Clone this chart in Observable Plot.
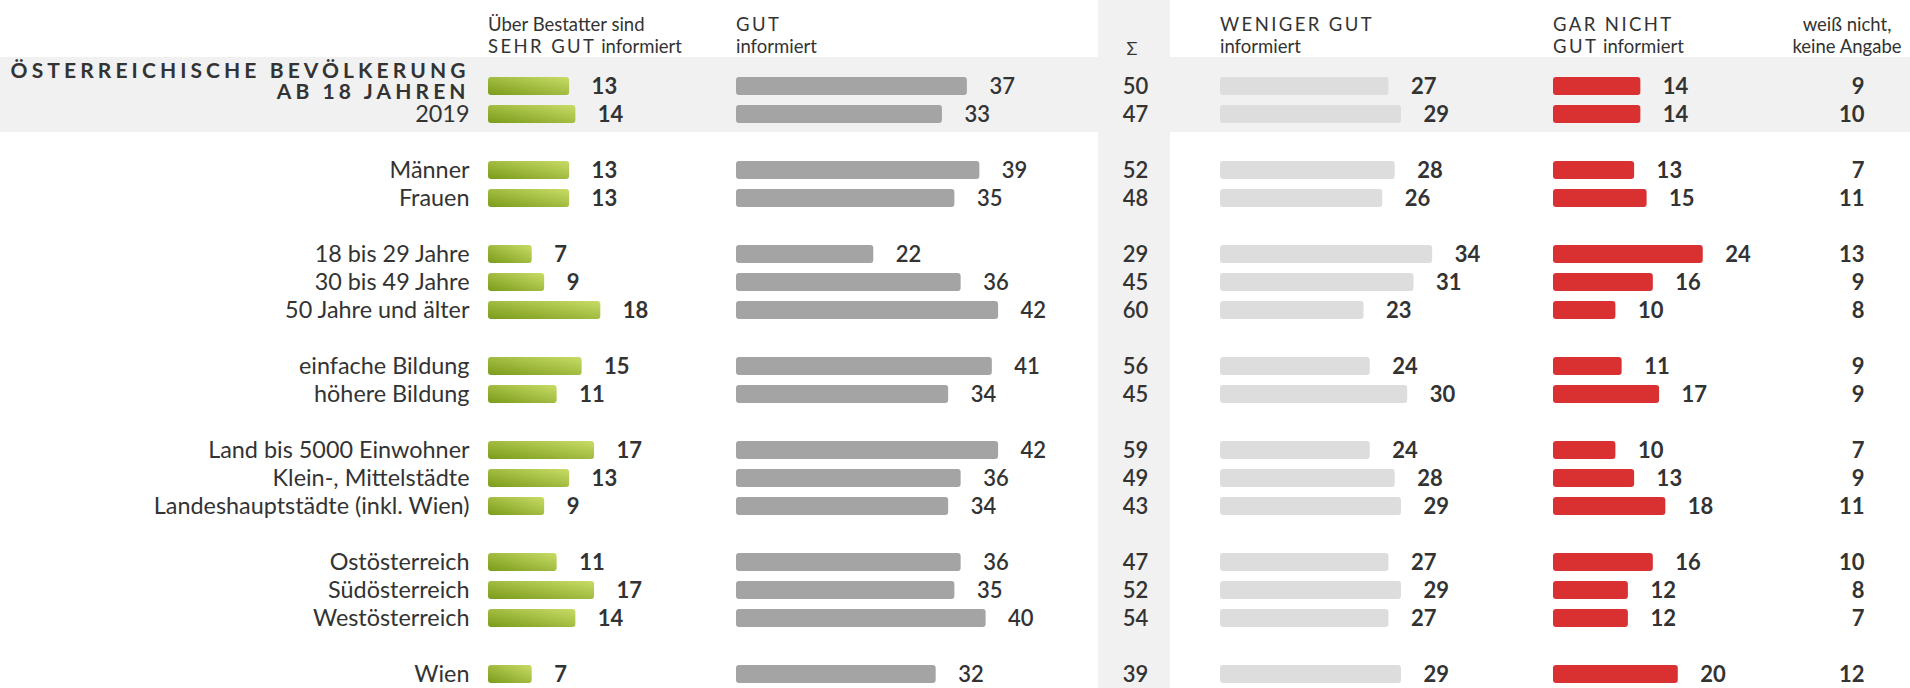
<!DOCTYPE html>
<html><head><meta charset="utf-8">
<script src="https://cdn.jsdelivr.net/npm/d3@7"></script>
<script src="https://cdn.jsdelivr.net/npm/@observablehq/plot@0.6"></script>
<style>
body{margin:0;background:#fff;font-family:Lato,sans-serif}
svg{display:block}
</style>
</head><body><div id="chart"></div>
<script>
// ---- data ----
const labels = ["ÖSTERREICHISCHE BEVÖLKERUNG\nAB 18 JAHREN", "2019", "Männer", "Frauen", "18 bis 29 Jahre", "30 bis 49 Jahre", "50 Jahre und älter", "einfache Bildung", "höhere Bildung", "Land bis 5000 Einwohner", "Klein-, Mittelstädte", "Landeshauptstädte (inkl. Wien)", "Ostösterreich", "Südösterreich", "Westösterreich", "Wien"];
const groups = [0, 0, 1, 1, 2, 2, 2, 3, 3, 4, 4, 4, 5, 5, 5, 6];
const sehrGut    = [13, 14, 13, 13, 7, 9, 18, 15, 11, 17, 13, 9, 11, 17, 14, 7];
const gut        = [37, 33, 39, 35, 22, 36, 42, 41, 34, 42, 36, 34, 36, 35, 40, 32];
const summe      = [50, 47, 52, 48, 29, 45, 60, 56, 45, 59, 49, 43, 47, 52, 54, 39];
const wenigerGut = [27, 29, 28, 26, 34, 31, 23, 24, 30, 24, 28, 29, 27, 29, 27, 29];
const garNicht   = [14, 14, 13, 15, 24, 16, 10, 11, 17, 10, 13, 18, 16, 12, 12, 20];
const weissNicht = [9, 10, 7, 11, 13, 9, 8, 9, 9, 7, 9, 11, 10, 8, 7, 12];

// ---- layout ----
const W = 1910, H = 688, U = 6.24;       // px per percentage point
const px = v => v / U;                      // pixel layout -> x scale units
const col = {green: 488, gray: 736, light: 1220, red: 1553, label: 469, sum: 1135, dk: 1864};
const nSlots = 22;
const data = labels.map((label, i) => ({
  label, slot: i + groups[i],
  sehrGut: sehrGut[i], gut: gut[i], summe: summe[i],
  wenigerGut: wenigerGut[i], garNicht: garNicht[i], weissNicht: weissNicht[i]
}));
const TXT = "#333333";
const F = "Lato, sans-serif";
const TITLE_LS = 4.1;

function barCol(key, start, fill, aria) {
  return Plot.barX(data, {y: "slot", x1: () => px(start), x2: d => px(start) + d[key], fill, rx: 3, ariaLabel: aria});
}
function numCol(key, start, weight) {
  return Plot.text(data, {y: "slot", x: d => px(start) + d[key], dx: 22, text: d => String(d[key]),
    textAnchor: "start", fontSize: 22, fontWeight: weight, fill: TXT, fontFamily: F});
}

const chart = Plot.plot({
  width: W, height: H, margin: 0,
  style: {fontFamily: F, background: "transparent"},
  x: {domain: [0, W / U], range: [0, W], axis: null},
  y: {type: "band", domain: d3.range(nSlots), range: [84 - 14.1, 676 + 14.1], paddingInner: 0.36, paddingOuter: 0.18, align: 0.5, axis: null},
  marks: [
    barCol("sehrGut", col.green, "url(#greenGrad)", "sehr-gut"),
    numCol("sehrGut", col.green, 700),
    barCol("gut", col.gray, "#a4a4a4", "gut"),
    numCol("gut", col.gray, 600),
    Plot.text(data, {y: "slot", x: () => px(col.sum), text: d => String(d.summe), textAnchor: "middle", fontSize: 22, fontWeight: 600, fill: TXT, fontFamily: F}),
    barCol("wenigerGut", col.light, "#dddddd", "weniger-gut"),
    numCol("wenigerGut", col.light, 700),
    barCol("garNicht", col.red, "#d93131", "gar-nicht"),
    numCol("garNicht", col.red, 700),
    Plot.text(data, {y: "slot", x: () => px(col.dk), text: d => String(d.weissNicht), textAnchor: "end", fontSize: 22, fontWeight: 700, fill: TXT, fontFamily: F}),
    Plot.text(data.slice(1), {y: "slot", x: () => px(col.label), text: "label", textAnchor: "end", fontSize: 23.4, fill: TXT, fontFamily: F}),
    Plot.text(data.slice(0, 1), {y: "slot", x: () => px(col.label - 4 + TITLE_LS), text: "label", textAnchor: "end", lineHeight: 1, dy: -4.5, fontSize: 21, fontWeight: 700, fill: TXT, fontFamily: F})
  ]
});
document.getElementById("chart").append(chart);

// ---- decorations: backgrounds, gradient, letter-spacing, column headers ----
const svg = d3.select(chart);
const defs = svg.insert("defs", ":first-child");
const grad = defs.append("linearGradient").attr("id", "greenGrad").attr("x1", 0).attr("y1", 1).attr("x2", 1).attr("y2", 0);
grad.append("stop").attr("offset", "0%").attr("stop-color", "#7b9b1b");
grad.append("stop").attr("offset", "100%").attr("stop-color", "#c8dc66");
svg.selectAll("text").filter(function() { return this.textContent.startsWith("ÖSTERREICH"); })
  .attr("letter-spacing", TITLE_LS + "px").style("letter-spacing", TITLE_LS + "px");

const bg = svg.insert("g", "defs + *");
bg.append("rect").attr("x", 0).attr("y", 57).attr("width", W).attr("height", 75).attr("fill", "#f1f1f1");
bg.append("rect").attr("x", 1098).attr("y", 0).attr("width", 72).attr("height", H).attr("fill", "#f1f1f1");

const hdr = svg.append("g").attr("font-family", F).attr("font-size", 18.5).attr("fill", TXT);
function header(x, line1, line2, anchor = "start") {
  const t1 = hdr.append("text").attr("x", x).attr("y", 30.5).attr("text-anchor", anchor);
  line1.forEach(([s, sp]) => t1.append("tspan").attr("letter-spacing", sp ? "2.4px" : null).text(s));
  const t2 = hdr.append("text").attr("x", x).attr("y", 53.3).attr("text-anchor", anchor);
  line2.forEach(([s, sp]) => t2.append("tspan").attr("letter-spacing", sp ? "2.4px" : null).text(s));
}
header(col.green, [["Über Bestatter sind", false]], [["SEHR GUT", true], [" informiert", false]]);
header(col.gray, [["GUT", true]], [["informiert", false]]);
header(col.light, [["WENIGER GUT", true]], [["informiert", false]]);
header(col.red, [["GAR NICHT", true]], [["GUT", true], [" informiert", false]]);
header(1847, [["weiß nicht,", false]], [["keine Angabe", false]], "middle");
hdr.append("text").attr("x", 1132).attr("y", 55).attr("text-anchor", "middle").attr("font-size", 18).text("Σ");
</script>
</body></html>
